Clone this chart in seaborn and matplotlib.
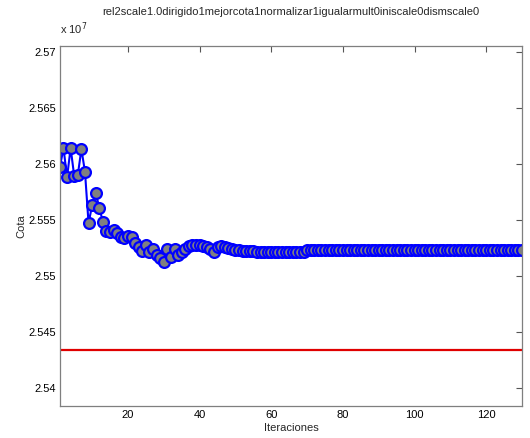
import matplotlib
matplotlib.use("Agg")
import matplotlib.pyplot as plt
import numpy as np
import pandas as pd
import seaborn as sns

# values, in units of 1e7
cota = [
    2.5597, 2.5614, 2.5588, 2.5614, 2.5589, 2.5590, 2.5613, 2.5593, 2.5547, 2.5563,
    2.5574, 2.5561, 2.5548, 2.5540, 2.5539, 2.5541, 2.5538, 2.5535, 2.5534, 2.5536,
    2.5535, 2.5529, 2.5526, 2.5522, 2.5528, 2.5521, 2.5524, 2.5519, 2.5516, 2.5512,
    2.5524, 2.5517, 2.5524, 2.5519, 2.5521, 2.5524, 2.5527, 2.5528, 2.5528, 2.5528,
    2.5527, 2.5526, 2.5524, 2.5521, 2.5526, 2.5527, 2.5526, 2.5525, 2.5524, 2.5523,
    2.5523, 2.5522, 2.5522, 2.5522, 2.5522, 2.5521, 2.5521, 2.5521, 2.5521, 2.5521,
    2.5521, 2.5521, 2.5521, 2.5521, 2.5521, 2.5521, 2.5521, 2.5521, 2.5521, 2.55235,
    2.55235, 2.55235, 2.55235, 2.55235, 2.55235, 2.55235, 2.55235, 2.55235, 2.55235, 2.55235,
    2.55235, 2.55235, 2.55235, 2.55235, 2.55235, 2.55235, 2.55235, 2.55235, 2.55235, 2.55235,
    2.55235, 2.55235, 2.55235, 2.55235, 2.55235, 2.55235, 2.55235, 2.55235, 2.55235, 2.55235,
    2.55235, 2.55235, 2.55235, 2.55235, 2.55235, 2.55235, 2.55235, 2.55235, 2.55235, 2.55235,
    2.55235, 2.55235, 2.55235, 2.55235, 2.55235, 2.55235, 2.55235, 2.55235, 2.55235, 2.55235,
    2.55235, 2.55235, 2.55235, 2.55235, 2.55235, 2.55235, 2.55235, 2.55235, 2.55235, 2.55235,
]
iteraciones = list(range(1, len(cota) + 1))
cota_optima = 2.5434
y_ticks = [2.54, 2.545, 2.55, 2.555, 2.56, 2.565, 2.57]
y_ticklabels = ["2.54", "2.545", "2.55", "2.555", "2.56", "2.565", "2.57"]
x_ticks = [20, 40, 60, 80, 100, 120]

titulo = "rel2scale1.0dirigido1mejorcota1normalizar1igualarmult0iniscale0dismscale0"

sns.set_style("white")
plt.rcParams["font.family"] = ["Liberation Sans", "DejaVu Sans"]
plt.rcParams["font.size"] = 8
plt.rcParams["xtick.direction"] = "in"
plt.rcParams["ytick.direction"] = "in"

df = pd.DataFrame({"Iteraciones": iteraciones, "Cota": cota})

fig = plt.figure(figsize=(5.30, 4.38), dpi=100)
ax = fig.add_axes([0.113, 0.073, 0.872, 0.822])

sns.lineplot(data=df, x="Iteraciones", y="Cota", ax=ax, color="blue", linewidth=1.5,
             marker="o", markersize=7.8, markerfacecolor="#808080",
             markeredgecolor="blue", markeredgewidth=1.6)
ax.axhline(cota_optima, color="#e00000", linewidth=1.6)

ax.set_xlim(1, 130)
ax.set_ylim(2.5384, 2.5705)
ax.set_xticks(x_ticks)
ax.set_xticklabels([str(t) for t in x_ticks])
ax.set_yticks(y_ticks)
ax.set_yticklabels(y_ticklabels)

for s in ax.spines.values():
    s.set_visible(True)
    s.set_color("#7f7f7f")
    s.set_linewidth(0.9)
ax.tick_params(which="both", top=True, right=True, length=4, width=0.8,
               color="#555555", labelcolor="black", labelsize=8, pad=3)

ax.set_xlabel("Iteraciones", fontsize=8, labelpad=2)
ax.set_ylabel("Cota", fontsize=8, labelpad=1)
ax.set_title(titulo, fontsize=8, pad=22)
ax.text(0.0, 1.025, r"x 10$^7$", transform=ax.transAxes, fontsize=8,
        ha="left", va="bottom")

fig.savefig("out.png", dpi=100)
